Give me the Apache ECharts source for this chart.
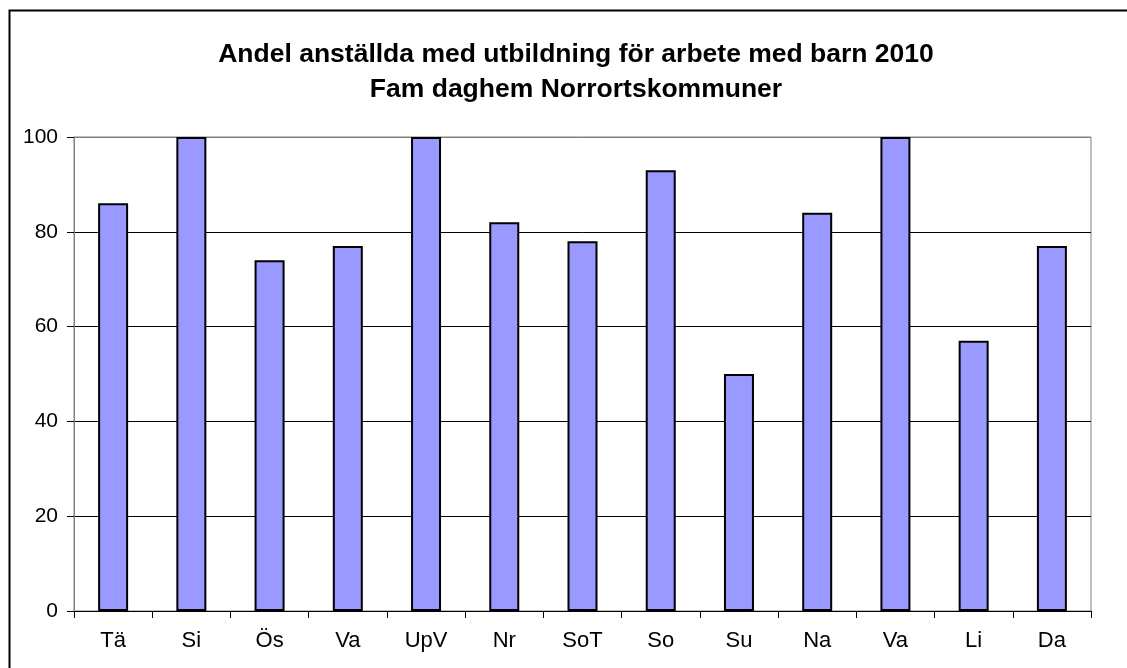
<!DOCTYPE html>
<html>
<head>
<meta charset="utf-8">
<script src="https://cdn.jsdelivr.net/npm/echarts@6/dist/echarts.min.js"></script>
<style>
html,body{margin:0;padding:0;background:#fff;}
#chart{width:1127px;height:668px;}
</style>
</head>
<body>
<div id="chart"></div>
<script>
const categories = ['Tä','Si','Ös','Va','UpV','Nr','SoT','So','Su','Na','Va','Li','Da'];
const values = [86,100,74,77,100,82,78,93,50,84,100,57,77];
const yTicks = [0,20,40,60,80,100];
const titleLines = ['Andel anställda med utbildning för arbete med barn 2010','Fam daghem Norrortskommuner'];

const font = '"Liberation Sans", Arial, sans-serif';
const chart = echarts.init(document.getElementById('chart'), null, {renderer:'canvas'});
chart.setOption({
  animation:false,
  backgroundColor:'#fff',
  title:{
    text: titleLines.join('\n'),
    left: 571, top: 32, textAlign:'center',
    textStyle:{fontFamily:font,fontWeight:'bold',fontSize:26.5,lineHeight:35,color:'#000'}
  },
  graphic:[{
    type:'rect', left:7, top:8, shape:{x:0,y:0,width:1300,height:800},
    style:{fill:null,stroke:'#000',lineWidth:2}, silent:true, z:-1
  }],
  grid:{left:74,right:36,top:137,bottom:57,show:true,borderColor:'#808080',borderWidth:1,backgroundColor:'transparent'},
  xAxis:{
    type:'category', data:categories,
    axisLine:{show:true,lineStyle:{color:'#000',width:1}},
    axisTick:{show:true,length:7,lineStyle:{color:'#000'}},
    axisLabel:{fontFamily:font,fontSize:22,color:'#000',margin:19},
    splitLine:{show:false}
  },
  yAxis:{
    type:'value', min:yTicks[0], max:yTicks[yTicks.length-1], interval:yTicks[1]-yTicks[0],
    axisLine:{show:true,lineStyle:{color:'#808080',width:1}},
    axisTick:{show:true,length:7,lineStyle:{color:'#000'}},
    axisLabel:{fontFamily:font,fontSize:21,color:'#000',margin:16},
    splitLine:{show:true,lineStyle:{color:['#000','#000','#000','#000','#000','#808080'],width:1}}
  },
  series:[{
    type:'bar', data:values, barWidth:30,
    itemStyle:{color:'#9999FF',borderColor:'#000',borderWidth:2}
  }]
});
</script>
</body>
</html>
